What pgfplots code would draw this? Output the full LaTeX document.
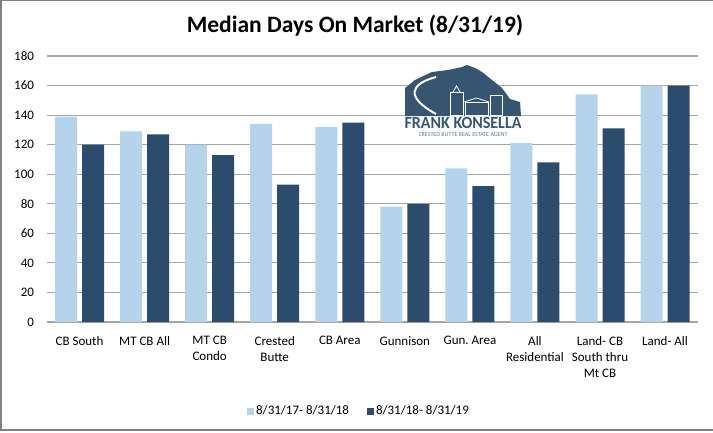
\documentclass[border=0pt]{standalone}
\usepackage{pgfplots}
\pgfplotsset{compat=1.18}
\usepackage{fontspec}
\setmainfont{Carlito}
\frenchspacing
\definecolor{lightc}{RGB}{182,211,236}
\definecolor{darkc}{RGB}{44,76,109}
\definecolor{gridc}{RGB}{166,166,166}
\definecolor{logoc}{RGB}{54,85,115}
\definecolor{framec}{RGB}{128,128,128}
\begin{document}
\begin{tikzpicture}[x=1bp,y=1bp]
\path[use as bounding box] (0,0) rectangle (713,432);
\draw[framec, line width=1.5bp] (713,431.3) -- (1,431.3) -- (1,2) -- (713,2);
\node[font=\fontsize{23.5bp}{27bp}\selectfont\bfseries, anchor=base] at (355,399.7) {Median Days On Market (8/31/19)};
\begin{axis}[
  at={(47bp,110bp)}, anchor=south west,
  scale only axis, width=650.6bp, height=266bp,
  xmin=-0.5, xmax=9.5, ymin=0, ymax=180,
  ytick={0,20,...,180},
  xtick={0,...,9},
  xticklabels={CB South,MT CB All,MT CB\\Condo,Crested\\Butte,CB Area,Gunnison,Gun.\ Area,All\\Residential,Land- CB\\South thru\\Mt CB,Land- All},
  xticklabel style={align=center, anchor=north, yshift=-11bp, font=\fontsize{13bp}{16bp}\selectfont},
  yticklabel style={font=\fontsize{13bp}{16bp}\selectfont, xshift=-9.5bp},
  /pgf/number format/assume math mode=true,
  axis line style={draw=none},
  major tick length=0pt,
  ymajorgrids,
  grid style={gridc, line width=1.2bp},
  ybar=5bp, bar width=22bp,
  legend columns=2,
  legend style={at={(0.4796,-0.3346)}, anchor=center, draw=none, fill=none,
    font=\fontsize{13bp}{16bp}\selectfont,
    /tikz/every even column/.append style={column sep=16bp},
    inner sep=0pt},
  legend image code/.code={\path[#1,draw=none] (0bp,-3.5bp) rectangle (7bp,3.5bp);},
]
\addplot[fill=lightc, draw=none] coordinates {(0,139) (1,129) (2,120) (3,134) (4,132) (5,78) (6,104) (7,121) (8,154) (9,160)};
\addplot[fill=darkc, draw=none] coordinates {(0,120) (1,127) (2,113) (3,93) (4,135) (5,80) (6,92) (7,108) (8,131) (9,160)};
\legend{8/31/17- 8/31/18, 8/31/18- 8/31/19}
\end{axis}
% logo
\fill[logoc] (405,316) -- (405,344) -- (415,352) -- (432,360) -- (448,362) -- (462,365) -- (467,367) -- (475,364) -- (482,360) -- (492,352) -- (502,344) -- (510,333) -- (520,330) -- (521,316) -- cycle;
\draw[white, line width=2bp] (436,355) .. controls (410,348) and (405,335) .. (436,318);
\draw[white, line width=0.8bp] (450,317) rectangle (463,340);
\draw[white, line width=0.8bp] (453,340) -- (456.5,346) -- (460,340);
\draw[white, line width=0.8bp] (465,317) rectangle (488,330);
\draw[white, line width=0.8bp] (464,330) -- (476.5,334) -- (489,330);
\draw[white, line width=0.8bp] (490,317) rectangle (502,337);
\node[logoc, font=\fontsize{17bp}{17bp}\selectfont\bfseries, xscale=0.94, anchor=center] at (463,309.5) {FRANK KONSELLA};
\node[logoc!80, font=\fontsize{6bp}{6bp}\selectfont, anchor=center] at (463,297.5) {CRESTED BUTTE REAL ESTATE AGENT};
\end{tikzpicture}
\end{document}
